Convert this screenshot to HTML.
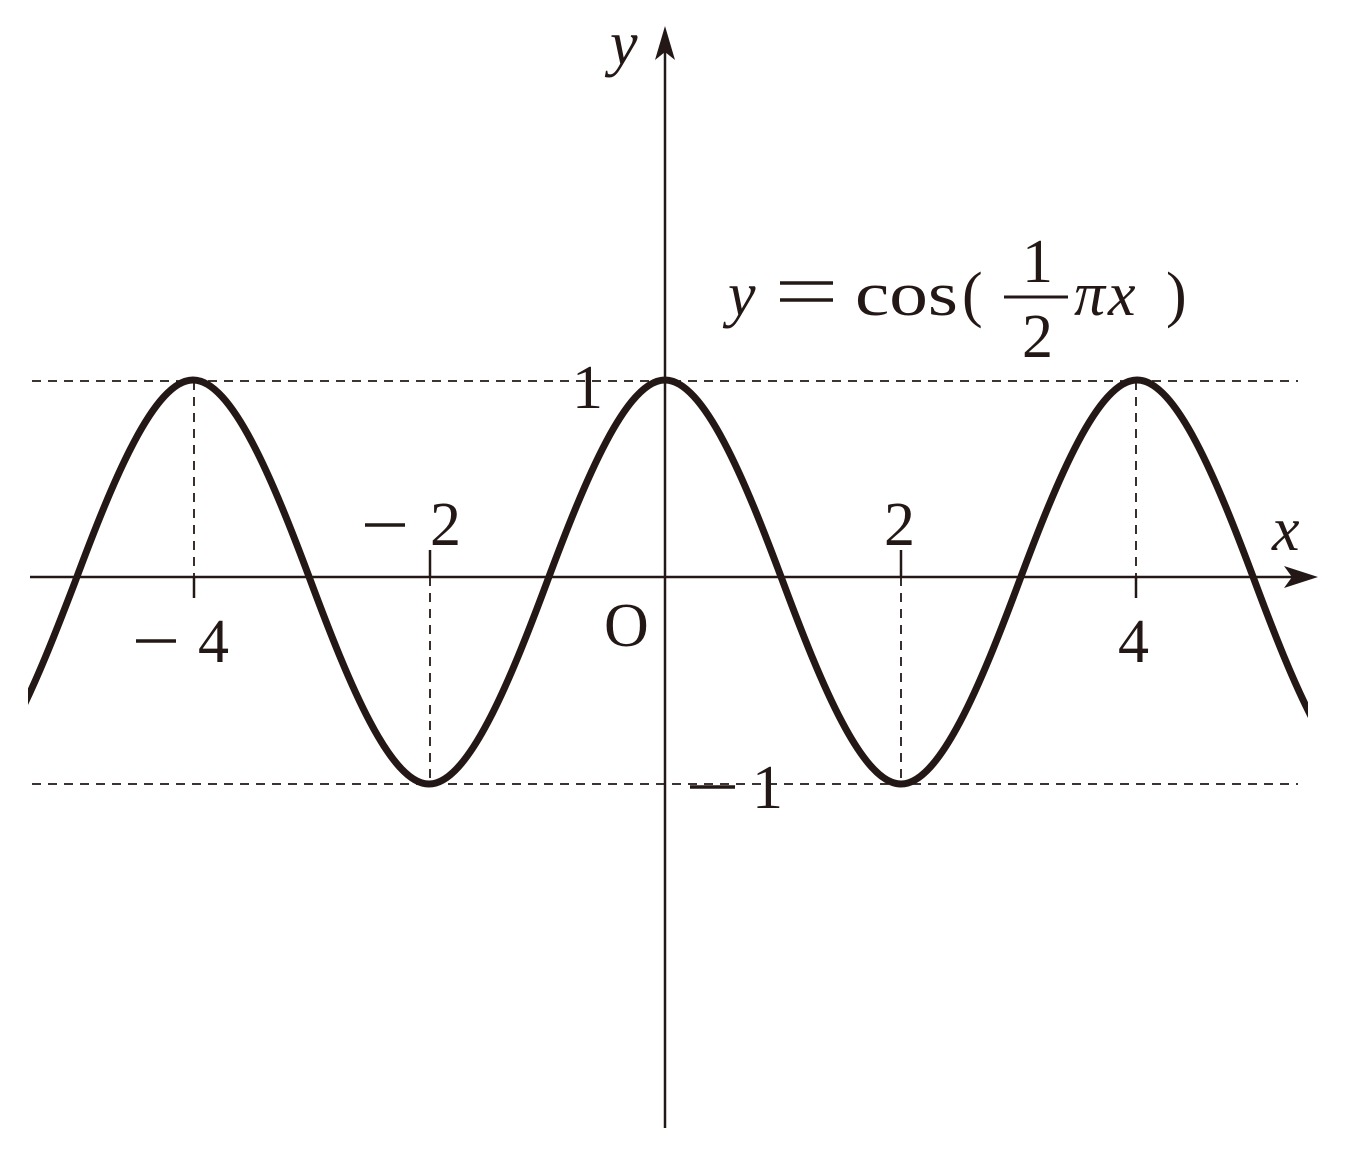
<!DOCTYPE html>
<html><head><meta charset="utf-8"><style>
html,body{margin:0;padding:0;background:#fff;}
svg{display:block;}
text{font-family:"Liberation Serif",serif;fill:#231815;}
</style></head><body>
<svg width="1348" height="1160" viewBox="0 0 1348 1160" xmlns="http://www.w3.org/2000/svg">
<defs><clipPath id="c"><rect x="28" y="0" width="1280" height="1160"/></clipPath></defs>
<g stroke="#231815" stroke-width="1.8" stroke-dasharray="9,7" fill="none">
<line x1="32" y1="381" x2="1298" y2="381"/>
<line x1="32" y1="784" x2="1298" y2="784"/>
<line x1="194" y1="381" x2="194" y2="577"/>
<line x1="1136" y1="381" x2="1136" y2="577"/>
<line x1="430" y1="577" x2="430" y2="784"/>
<line x1="901" y1="577" x2="901" y2="784"/>
</g>
<g stroke="#231815" stroke-width="2.5" fill="none">
<line x1="30" y1="577" x2="1300" y2="577"/>
<line x1="665" y1="1128" x2="665" y2="45"/>
<line x1="194" y1="577" x2="194" y2="598"/>
<line x1="1136" y1="577" x2="1136" y2="598"/>
<line x1="430" y1="550" x2="430" y2="577"/>
<line x1="901" y1="550" x2="901" y2="577"/>
</g>
<g stroke="#231815" stroke-width="3.5">
<line x1="365" y1="525" x2="405" y2="525"/>
<line x1="136" y1="641" x2="176" y2="641"/>
<line x1="690" y1="787" x2="735" y2="787"/>
<line x1="780" y1="283" x2="833" y2="283"/>
<line x1="780" y1="300" x2="833" y2="300"/>
</g>
<path d="M1318 577 L1284 566 L1292 577 L1284 588 Z" fill="#231815"/>
<path d="M665 26 L655 60 L665 52 L675 60 Z" fill="#231815"/>
<path clip-path="url(#c)" fill="none" stroke="#231815" stroke-width="7" d="M -43 784
C -4.3 784 35.5 685.4 75 582
C 113.5 478.6 154.3 380 193 380
C 231.7 380 272.5 478.6 311 582
C 349.5 685.4 390.3 784 429 784
C 467.7 784 508.5 685.4 547 582
C 585.5 478.6 626.3 380 665 380
C 703.7 380 744.5 478.6 783 582
C 821.5 685.4 862.3 784 901 784
C 939.7 784 980.5 685.4 1019 582
C 1057.5 478.6 1098.3 380 1137 380
C 1175.7 380 1216.5 478.6 1255 582
C 1293.5 685.4 1334.3 784 1373 784"/>
<g font-size="62">
<text x="610" y="64" font-style="italic">y</text>
<text x="1272" y="550" font-style="italic">x</text>
<text x="572" y="408">1</text>
<text x="430" y="545">2</text>
<text x="884" y="545">2</text>
<text x="198" y="662">4</text>
<text x="1118" y="662">4</text>
<text x="604" y="646">O</text>
<text x="752" y="808">1</text>
<text x="728" y="315" font-style="italic">y</text>
<text x="855" y="315" textLength="103" lengthAdjust="spacingAndGlyphs">cos</text>
<text x="962" y="315">(</text>
<text x="1022" y="282">1</text>
<text x="1022" y="357">2</text>
<text x="1074" y="315" font-style="italic">π</text>
<text x="1108" y="315" font-style="italic">x</text>
<text x="1166" y="315">)</text>
</g>
<line x1="1004" y1="297" x2="1068" y2="297" stroke="#231815" stroke-width="3"/>
</svg>
</body></html>
